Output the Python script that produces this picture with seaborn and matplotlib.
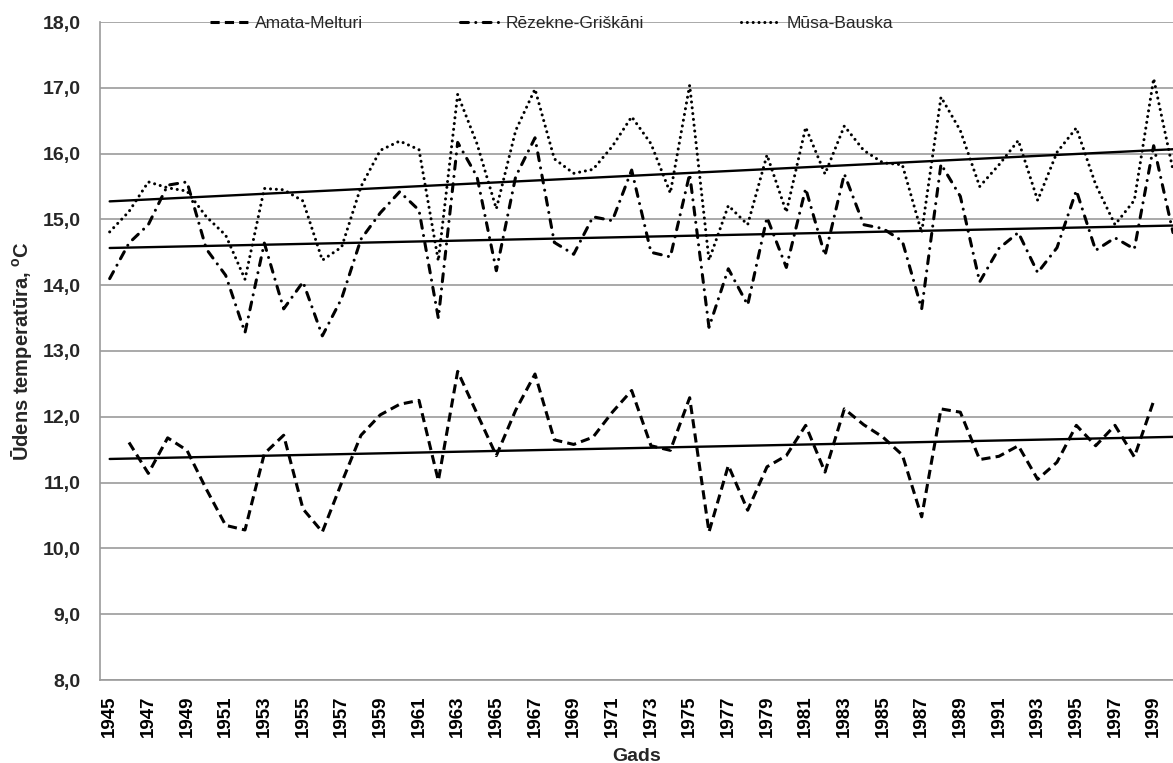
import matplotlib.pyplot as plt
import numpy as np
import pandas as pd
import seaborn as sns
from matplotlib.lines import Line2D
from matplotlib.ticker import FixedLocator, FuncFormatter

# Yearly water temperature, three gauging stations
years = list(range(1945, 2001))

amata = [
    np.nan, 11.61, 11.14, 11.68, 11.49, 10.90, 10.35, 10.28, 11.44, 11.72,
    10.60, 10.25, 11.00, 11.72, 12.03, 12.19, 12.25, 11.03, 12.69, 12.05,
    11.41, 12.10, 12.65, 11.65, 11.58, 11.69, 12.07, 12.40, 11.56, 11.49,
    12.29, 10.25, 11.26, 10.58, 11.24, 11.41, 11.87, 11.16, 12.12, 11.88,
    11.69, 11.42, 10.48, 12.12, 12.07, 11.35, 11.40, 11.56, 11.05, 11.31,
    11.87, 11.56, 11.87, 11.39, 12.24, np.nan,
]
rezekne = [
    14.10, 14.64, 14.92, 15.52, 15.57, 14.55, 14.15, 13.28, 14.64, 13.64,
    14.05, 13.23, 13.80, 14.70, 15.10, 15.42, 15.14, 13.50, 16.17, 15.65,
    14.22, 15.65, 16.24, 14.65, 14.47, 15.04, 14.98, 15.75, 14.50, 14.43,
    15.69, 13.36, 14.25, 13.70, 15.03, 14.27, 15.47, 14.45, 15.69, 14.92,
    14.86, 14.67, 13.64, 15.84, 15.35, 14.05, 14.56, 14.80, 14.19, 14.57,
    15.44, 14.53, 14.72, 14.55, 16.12, 14.80,
]
musa = [
    14.81, 15.12, 15.57, 15.48, 15.43, 15.04, 14.76, 14.09, 15.47, 15.45,
    15.28, 14.38, 14.58, 15.50, 16.05, 16.19, 16.06, 14.37, 16.90, 16.15,
    15.16, 16.35, 16.98, 15.92, 15.70, 15.76, 16.11, 16.56, 16.15, 15.40,
    17.04, 14.38, 15.21, 14.92, 15.98, 15.11, 16.40, 15.69, 16.42, 16.05,
    15.86, 15.83, 14.80, 16.86, 16.35, 15.50, 15.83, 16.20, 15.29, 16.02,
    16.39, 15.53, 14.92, 15.29, 17.14, 15.75,
]

stations = ["Amata-Melturi", "Rēzekne-Griškāni", "Mūsa-Bauska"]
label_years = list(range(1945, 2000, 2))
y_ticks = [8.0, 9.0, 10.0, 11.0, 12.0, 13.0, 14.0, 15.0, 16.0, 17.0, 18.0]

sns.set_theme(style="white")
plt.rcParams["font.family"] = ["Liberation Sans", "DejaVu Sans"]
plt.rcParams["mathtext.fontset"] = "custom"
plt.rcParams["mathtext.rm"] = "Liberation Sans"
plt.rcParams["mathtext.bf"] = "Liberation Sans:bold"

df = pd.DataFrame({"year": years, stations[0]: amata, stations[1]: rezekne, stations[2]: musa})

# line look for every station (in units of line width)
styles = {
    "Amata-Melturi": dict(linestyle=(0, (3.0, 1.7)), dash_capstyle="butt"),
    "Rēzekne-Griškāni": dict(linestyle=(0, (2.6, 2.4, 0.01, 2.4)), dash_capstyle="round"),
    "Mūsa-Bauska": dict(linestyle=(0, (0.01, 1.9)), dash_capstyle="round"),
}
grey = "#9b9b9b"

fig = plt.figure(figsize=(11.73, 7.63), dpi=100)
ax = fig.add_axes([100 / 1173, 1 - 680 / 763, 1073 / 1173, 658 / 763])

for name in stations:
    sub = df[["year", name]].dropna()
    sns.lineplot(x=sub["year"], y=sub[name], ax=ax, color="black", lw=2.2, **styles[name])

# linear trend lines over the full period
for name in stations:
    sub = df[["year", name]].dropna()
    k, b = np.polyfit(sub["year"], sub[name], 1)
    trend = np.polyval([k, b], np.array(years))
    sns.lineplot(x=years, y=trend, ax=ax, color="black", lw=1.7)

ax.set_xlim(1944.5, 2000.0)
ax.set_ylim(8.0, 18.0)

ax.yaxis.set_major_locator(FixedLocator(y_ticks))
ax.yaxis.set_major_formatter(FuncFormatter(lambda v, p: f"{v:.1f}".replace(".", ",")))
ax.xaxis.set_major_locator(FixedLocator(label_years))
ax.xaxis.set_minor_locator(FixedLocator([y - 0.5 for y in years]))
ax.set_xticklabels([str(y) for y in label_years], rotation=90, fontsize=13.5, fontweight="bold")
for t in ax.get_yticklabels():
    t.set_fontsize(14)
    t.set_fontweight("bold")

ax.tick_params(axis="x", which="major", length=0, pad=11, colors="black")
ax.tick_params(axis="x", which="minor", length=5, width=1, color=grey, direction="out")
ax.tick_params(axis="y", which="major", length=6, width=1, color=grey, direction="out", pad=8)

ax.grid(axis="y", color=grey, lw=1.2)
ax.grid(axis="x", visible=False)
ax.set_axisbelow(True)
for side in ["top", "right"]:
    ax.spines[side].set_visible(False)
for side in ["left", "bottom"]:
    ax.spines[side].set_color(grey)
    ax.spines[side].set_linewidth(1.2)

ax.set_xlabel("Gads", fontsize=14, fontweight="bold", labelpad=8)
ax.set_ylabel("Ūdens temperatūra, $^{\\mathbf{o}}$C", fontsize=14.5, fontweight="bold", labelpad=6)

handles = [Line2D([0], [0], color="black", lw=2.2, **styles[n]) for n in stations]
fig.legend(
    handles,
    stations,
    loc="center",
    bbox_to_anchor=(0.47, 1 - 23 / 763),
    ncol=3,
    frameon=False,
    fontsize=12.5,
    handlelength=2.3,
    handletextpad=0.3,
    columnspacing=5.6,
)

fig.savefig("out.png", dpi=100)
